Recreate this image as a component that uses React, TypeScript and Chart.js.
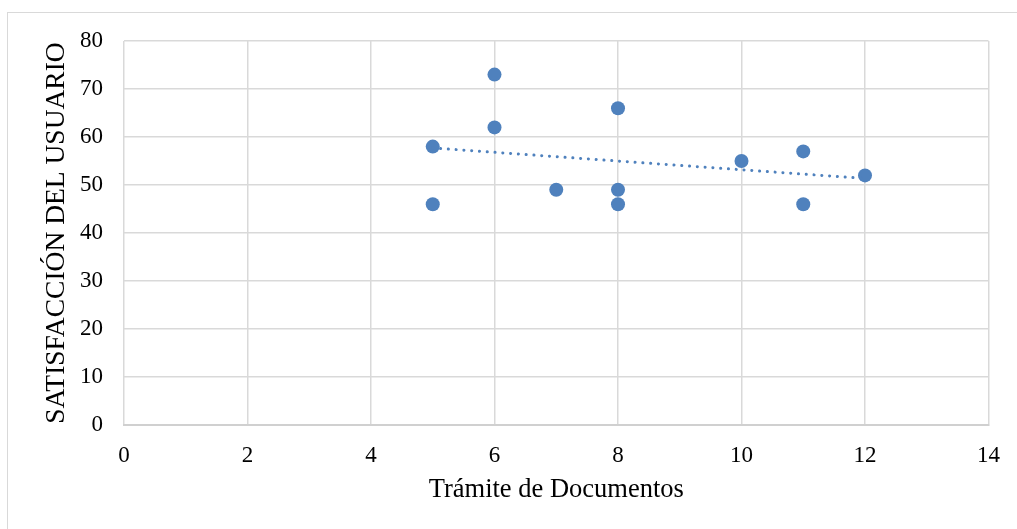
import React, { useEffect, useRef } from "react";
import { Chart, registerables } from "chart.js";

Chart.register(...registerables);

const tramiteValues = [5, 5, 6, 6, 7, 8, 8, 8, 10, 11, 11, 12];
const satisfaccionValues = [58, 46, 73, 62, 49, 66, 49, 46, 55, 57, 46, 52];
const xTicks = [0, 2, 4, 6, 8, 10, 12, 14];
const yTicks = [0, 10, 20, 30, 40, 50, 60, 70, 80];
const xTitle = "Trámite de Documentos";
const yTitle = "SATISFACCIÓN DEL USUARIO";

function linearTrend(xs: number[], ys: number[]) {
  const n = xs.length;
  const mx = xs.reduce((a, b) => a + b, 0) / n;
  const my = ys.reduce((a, b) => a + b, 0) / n;
  let sxy = 0;
  let sxx = 0;
  for (let i = 0; i < n; i++) {
    sxy += (xs[i] - mx) * (ys[i] - my);
    sxx += (xs[i] - mx) * (xs[i] - mx);
  }
  const slope = sxy / sxx;
  const intercept = my - slope * mx;
  const x0 = Math.min(...xs);
  const x1 = Math.max(...xs);
  return [
    { x: x0, y: intercept + slope * x0 },
    { x: x1, y: intercept + slope * x1 },
  ];
}

const FONT = "'Liberation Serif', 'Times New Roman', serif";

const outerBorder = {
  id: "outerBorder",
  beforeDraw(chart: any) {
    const { ctx } = chart;
    ctx.save();
    ctx.fillStyle = "#ffffff";
    ctx.fillRect(0, 0, chart.width, chart.height);
    ctx.strokeStyle = "#d9d9d9";
    ctx.lineWidth = 1;
    ctx.strokeRect(7.5, 12.5, 1030, 540);
    ctx.restore();
  },
};

export default function App() {
  const ref = useRef<HTMLCanvasElement | null>(null);

  useEffect(() => {
    if (!ref.current) return;
    const points = tramiteValues.map((x, i) => ({ x, y: satisfaccionValues[i] }));
    const trend = linearTrend(tramiteValues, satisfaccionValues);
    const chart = new Chart(ref.current, {
      type: "scatter",
      data: {
        datasets: [
          {
            type: "line",
            label: "Tendencia",
            data: trend,
            borderColor: "#4f81bd",
            borderWidth: 3,
            borderDash: [0.1, 7.7],
            borderCapStyle: "round",
            pointRadius: 0,
            fill: false,
          } as any,
          {
            label: "Datos",
            data: points,
            backgroundColor: "#4f81bd",
            borderColor: "#4f81bd",
            pointRadius: 7,
            pointHoverRadius: 7,
            borderWidth: 0,
          },
        ],
      },
      options: {
        animation: false,
        responsive: false,
        maintainAspectRatio: false,
        layout: { padding: { left: 0, top: 41, right: 27, bottom: 0 } },
        plugins: {
          legend: { display: false },
          tooltip: { enabled: false },
        },
        scales: {
          x: {
            type: "linear",
            min: 0,
            max: 14,
            afterBuildTicks: (s: any) => {
              s.ticks = xTicks.map((v) => ({ value: v }));
            },
            afterFit: (s: any) => {
              s.height = 104;
            },
            grid: { color: "#d9d9d9", lineWidth: 1.5, drawTicks: false },
            border: { color: "#d0d0d0", width: 2 },
            ticks: {
              padding: 17,
              color: "#000",
              font: { family: FONT, size: 23 },
              maxRotation: 0,
            },
            title: {
              display: true,
              text: xTitle,
              color: "#000",
              font: { family: FONT, size: 26.5, lineHeight: 1.2 },
              padding: { top: 0, bottom: 23 },
            },
          },
          y: {
            type: "linear",
            min: 0,
            max: 80,
            afterBuildTicks: (s: any) => {
              s.ticks = yTicks.map((v) => ({ value: v }));
            },
            afterFit: (s: any) => {
              s.width = 124;
            },
            grid: { color: "#d9d9d9", lineWidth: 1.5, drawTicks: false },
            border: { display: false },
            ticks: {
              padding: 21,
              color: "#000",
              font: { family: FONT, size: 23 },
            },
            title: {
              display: true,
              text: yTitle,
              color: "#000",
              font: { family: FONT, size: 27.5, lineHeight: 1.2 },
              padding: { top: 40, bottom: 0 },
            },
          },
        },
      },
      plugins: [outerBorder],
    });
    return () => chart.destroy();
  }, []);

  return (
    <div style={{ position: "fixed", left: 0, top: 0, width: 1017, height: 529, background: "#fff" }}>
      <canvas ref={ref} width={1017} height={529} style={{ width: 1017, height: 529, display: "block" }} />
    </div>
  );
}
